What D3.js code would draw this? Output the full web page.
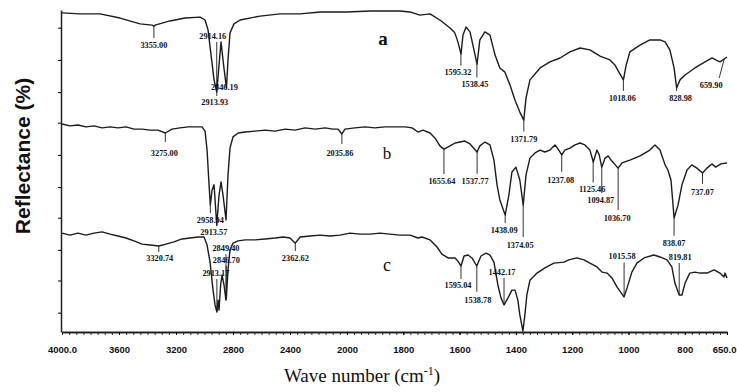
<!DOCTYPE html>
<html>
<head>
<meta charset="utf-8">
<script src="https://cdn.jsdelivr.net/npm/d3@7"></script>
<style>
  body { margin: 0; background: #fff; }
  svg { display: block; }
  .curve { fill: none; stroke: #1c1c1c; stroke-width: 1.4; stroke-linejoin: round; }
  .peak-line { stroke: #1c1c1c; stroke-width: 0.9; }
  .peak-label { font-family: "Liberation Serif", serif; font-size: 8.3px; font-weight: bold; fill: #111; text-anchor: middle; }
  .tag { font-family: "Liberation Serif", serif; fill: #111; text-anchor: middle; }
</style>
</head>
<body>
<div id="vis"></div>
<script>
const FRAME_HEIGHT = 392;
const FRAME_WIDTH = 737;
const MARGINS = {left: 62, right: 10, top: 10, bottom: 60};
const X_BREAK = MARGINS.left + 285; // pixel where 2000 cm-1 sits (axis changes scale there)

// x axis ticks
const X_TICKS = [4000, 3600, 3200, 2800, 2400, 2000, 1800, 1600, 1400, 1200, 1000, 800, 650];
const X_TICK_LABELS = ['4000.0', '3600', '3200', '2800', '2400', '2000', '1800', '1600', '1400', '1200', '1000', '800', '650.0'];
const Y_TICKS = [6, 16, 25.5, 35.5, 45, 55, 65, 74.5, 84.5, 94.5];

// spectra: [wave number, reflectance]
const SPECTRUM_A = [[4000,99.1],[3874,98.8],[3733,98.8],[3593,97.5],[3452,95.7],[3368,95.3],[3355,95.0],[3347,95.3],[3242,96.6],[3137,97.5],[3031,97.8],[2996,96.9],[2975,93.8],[2954,86.0],[2933,78.3],[2914,74.5],[2901,81.4],[2884,90.1],[2866,82.9],[2846,75.8],[2835,84.5],[2821,92.9],[2793,95.7],[2750,96.9],[2610,98.1],[2470,98.8],[2329,98.8],[2189,99.4],[2000,99.4],[1918,99.7],[1812,99.7],[1776,99.4],[1741,98.4],[1705,98.8],[1670,96.9],[1634,94.4],[1617,92.9],[1606,90.1],[1595,86.3],[1588,92.2],[1577,94.7],[1563,93.2],[1549,87.6],[1538,83.2],[1528,90.7],[1510,93.2],[1492,92.2],[1474,86.0],[1457,82.0],[1439,80.7],[1421,76.7],[1403,72.0],[1386,68.3],[1372,65.8],[1364,72.7],[1350,78.3],[1314,82.0],[1279,83.9],[1243,85.1],[1208,87.0],[1172,88.2],[1137,87.6],[1101,85.7],[1066,84.5],[1048,82.9],[1030,80.1],[1018,78.3],[1009,82.6],[995,87.0],[959,89.1],[924,90.7],[888,90.7],[870,90.1],[853,87.6],[838,82.0],[829,75.8],[817,78.3],[799,79.8],[764,82.0],[728,83.9],[703,85.1],[690,84.5],[675,83.9],[650,85.4]];

const SPECTRUM_B = [[4000,64.6],[3944,64.0],[3888,64.3],[3832,63.7],[3775,64.0],[3719,63.4],[3663,63.7],[3607,63.4],[3551,63.7],[3495,63.0],[3438,63.0],[3382,62.7],[3326,62.7],[3275,61.8],[3228,63.0],[3172,63.4],[3115,63.7],[3059,63.7],[3017,63.7],[2996,62.4],[2982,56.5],[2968,45.7],[2959,39.4],[2947,44.1],[2933,45.7],[2914,33.2],[2898,42.5],[2884,46.6],[2870,42.5],[2849,34.8],[2835,48.8],[2821,57.1],[2800,60.6],[2764,61.8],[2715,62.1],[2645,62.4],[2575,62.7],[2505,62.4],[2435,63.0],[2364,62.7],[2294,63.4],[2224,63.0],[2154,63.4],[2098,63.0],[2063,63.0],[2036,61.5],[2014,63.0],[1972,63.4],[1936,63.7],[1901,63.4],[1865,63.7],[1830,63.7],[1794,63.7],[1769,63.4],[1748,62.1],[1730,62.7],[1705,61.8],[1687,60.2],[1670,57.8],[1656,56.8],[1634,57.8],[1616,58.7],[1599,59.0],[1581,59.3],[1563,58.4],[1538,55.9],[1528,57.8],[1510,59.0],[1492,58.1],[1478,53.4],[1467,45.7],[1457,41.0],[1438,36.3],[1425,42.5],[1414,49.7],[1400,51.2],[1386,47.2],[1374,39.4],[1364,48.8],[1350,54.0],[1332,55.6],[1314,56.5],[1297,55.9],[1279,56.5],[1261,58.1],[1250,56.8],[1237,55.0],[1226,56.5],[1208,57.1],[1190,58.1],[1172,58.7],[1155,58.1],[1137,56.5],[1125,52.8],[1112,56.5],[1104,55.0],[1095,51.2],[1083,54.0],[1072,54.7],[1062,53.4],[1037,50.9],[1023,52.5],[995,53.4],[959,54.7],[924,56.5],[906,58.1],[888,56.5],[870,51.9],[860,50.3],[849,47.2],[838,35.4],[824,39.4],[810,45.7],[792,50.3],[775,51.9],[757,50.9],[737,49.4],[721,50.9],[704,52.2],[690,51.2],[672,52.2],[650,52.5]];

const SPECTRUM_C = [[4000,30.7],[3944,30.1],[3888,30.7],[3832,30.1],[3775,30.7],[3719,31.1],[3663,30.4],[3607,29.8],[3551,29.2],[3495,28.3],[3438,27.3],[3382,27.0],[3321,26.7],[3270,27.3],[3214,28.0],[3158,28.9],[3101,29.2],[3045,29.5],[3003,29.5],[2982,27.0],[2961,21.7],[2940,13.0],[2926,8.4],[2913,6.2],[2905,9.9],[2898,6.8],[2887,14.6],[2877,17.7],[2863,14.6],[2849.4,9.9],[2848,12.4],[2846.7,10.6],[2835,19.3],[2821,25.5],[2800,27.6],[2764,28.3],[2715,28.6],[2645,28.6],[2575,28.9],[2505,29.2],[2449,29.5],[2400,29.2],[2363,27.6],[2329,29.5],[2259,29.8],[2189,30.1],[2119,29.8],[2049,30.1],[1989,30.7],[1954,30.4],[1918,30.4],[1883,30.7],[1847,30.4],[1812,30.1],[1776,30.1],[1748,29.2],[1734,29.5],[1705,28.6],[1680,26.4],[1663,24.2],[1641,23.0],[1616,23.0],[1606,22.0],[1595,20.5],[1584,23.6],[1570,23.9],[1556,23.0],[1539,20.5],[1524,23.6],[1506,24.5],[1492,23.9],[1478,21.7],[1464,14.6],[1453,10.6],[1442,8.4],[1428,10.6],[1414,13.0],[1403,13.0],[1393,9.9],[1386,5.3],[1375,0.3],[1368,5.3],[1361,11.5],[1350,16.1],[1325,18.3],[1297,19.9],[1265,21.4],[1229,21.7],[1212,22.4],[1183,23.0],[1158,22.4],[1137,21.4],[1112,20.2],[1094,18.6],[1076,18.3],[1059,16.8],[1041,14.0],[1016,10.9],[1005,13.7],[988,18.6],[970,21.4],[945,23.0],[910,23.9],[888,23.3],[863,22.4],[846,20.2],[835,15.2],[820,11.5],[810,11.5],[799,15.2],[782,18.3],[764,18.6],[746,18.3],[721,18.3],[696,19.3],[675,18.3],[661,17.1],[657,18.3],[650,16.8]];

// peak annotations: [wave number, label]
const PEAKS_A = [[3355.00,'3355.00'],[2914.16,'2914.16'],[2846.19,'2846.19'],[2913.93,'2913.93'],[1595.32,'1595.32'],[1538.45,'1538.45'],[1371.79,'1371.79'],[1018.06,'1018.06'],[828.98,'828.98'],[659.90,'659.90']];
const PEAKS_B = [[3275.00,'3275.00'],[2958.94,'2958.94'],[2913.57,'2913.57'],[2035.86,'2035.86'],[1655.64,'1655.64'],[1537.77,'1537.77'],[1438.09,'1438.09'],[1374.05,'1374.05'],[1237.08,'1237.08'],[1125.46,'1125.46'],[1094.87,'1094.87'],[1036.70,'1036.70'],[838.07,'838.07'],[737.07,'737.07']];
const PEAKS_C = [[3320.74,'3320.74'],[2913.17,'2913.17'],[2849.40,'2849.40'],[2846.70,'2846.70'],[2362.62,'2362.62'],[1595.04,'1595.04'],[1538.78,'1538.78'],[1442.17,'1442.17'],[1015.58,'1015.58'],[819.81,'819.81']];

// label placement (px offsets from the peak): [leader end dy, text dy, text dx, leader end dx]
const LAYOUT_A = [[12,19,0],[-50,-56,-4],[0,-1,-2],[4,10,-2],[12,18,-3],[14,21,-2],[12,20,0],[11,18,-1],[3,10,4],[19,26,-13,-5]];
const LAYOUT_B = [[9,20,-1],[8,15,0],[2,8,-3],[10,19,-2],[25,32,-2],[22,29,-2],[8,15,-1],[32,40,-3],[17,25,-1],[21,28,-1],[26,33,-1],[42,50,-1],[18,25,0],[11,19,0]];
const LAYOUT_C = [[6,12,1],[-33,-39,-1],[-46,-52,0],[-32,-38,0],[8,15,0],[13,19,-3],[26,34,1],[-27,-33,-2],[-34,-40,-2],[-32,-38,1]];

const FRAME = d3.select("#vis")
                .append("svg")
                  .attr("width", FRAME_WIDTH)
                  .attr("height", FRAME_HEIGHT);

// split axis: 4000-2000 compressed, 2000-650 expanded
const X_SCALE = d3.scaleLinear()
        .domain([4000, 2000, 650])
        .range([MARGINS.left, X_BREAK, FRAME_WIDTH - MARGINS.right]);

const Y_SCALE = d3.scaleLinear()
        .domain([0, 100])
        .range([FRAME_HEIGHT - MARGINS.bottom, MARGINS.top]);

// minor ticks along the bottom
const MINOR = d3.range(4000, 2000, -50).concat(d3.range(2000, 649, -25));
FRAME.append("g")
    .attr("transform", "translate(0," + Y_SCALE(0) + ")")
    .call(d3.axisBottom(X_SCALE).tickValues(MINOR).tickFormat("").tickSize(3).tickSizeOuter(0))
    .call(g => g.select(".domain").remove())
    .call(g => g.selectAll("line").attr("stroke", "#333"));

// x axis
FRAME.append("g")
    .attr("transform", "translate(0," + Y_SCALE(0) + ")")
    .call(d3.axisBottom(X_SCALE).tickValues(X_TICKS)
            .tickFormat((d, i) => X_TICK_LABELS[i])
            .tickSize(3).tickSizeOuter(0).tickPadding(11))
    .call(g => g.select(".domain").attr("stroke-width", 2).attr("stroke", "#222"))
    .call(g => g.selectAll("text")
            .attr("font-family", "'Liberation Sans', Arial, sans-serif")
            .attr("font-weight", "bold")
            .attr("font-size", "9.5px")
            .attr("fill", "#111"))
    // last label sits at the right edge of the frame
    .call(g => g.selectAll(".tick").filter(d => d === 650).select("text")
            .attr("text-anchor", "end").attr("x", FRAME_WIDTH - 1 - X_SCALE(650)));

// y axis (no labels)
FRAME.append("g")
    .attr("transform", "translate(" + (MARGINS.left - 1) + ",0)")
    .call(d3.axisLeft(Y_SCALE).tickValues(Y_TICKS).tickFormat("").tickSize(3).tickSizeOuter(0))
    .call(g => g.select(".domain").attr("stroke-width", 1.5).attr("stroke", "#222"));

const line = d3.line()
        .x(d => X_SCALE(d[0]))
        .y(d => Y_SCALE(d[1]));

// reflectance at a wave number, by linear interpolation along the spectrum
function valueAt(spec, wn) {
    for (let i = 0; i < spec.length - 1; i++) {
        const a = spec[i], b = spec[i + 1];
        if (wn <= a[0] && wn >= b[0]) {
            const t = (a[0] - wn) / (a[0] - b[0]);
            return a[1] + t * (b[1] - a[1]);
        }
    }
    return spec[spec.length - 1][1];
}

const SETS = [
    {spec: SPECTRUM_A, peaks: PEAKS_A, layout: LAYOUT_A},
    {spec: SPECTRUM_B, peaks: PEAKS_B, layout: LAYOUT_B},
    {spec: SPECTRUM_C, peaks: PEAKS_C, layout: LAYOUT_C}
];

SETS.forEach(s => {
    FRAME.append("path")
        .datum(s.spec)
        .attr("class", "curve")
        .attr("d", line);

    s.peaks.forEach((p, i) => {
        const L = s.layout[i];
        const x0 = X_SCALE(p[0]);
        const y0 = Y_SCALE(valueAt(s.spec, p[0]));
        if (L[0] !== 0) {
            FRAME.append("line")
                .attr("class", "peak-line")
                .attr("x1", x0).attr("y1", y0)
                .attr("x2", x0 + (L[3] || 0)).attr("y2", y0 + L[0]);
        }
        FRAME.append("text")
            .attr("class", "peak-label")
            .attr("x", x0 + L[2])
            .attr("y", y0 + L[1])
            .attr("dy", "0.35em")
            .text(p[1]);
    });
});

// series tags
const TAGS = ['a', 'b', 'c'];
const TAG_POS = [[1872, 91.3], [1858, 55.6], [1858, 20.8]];
const TAG_STYLE = [[19, 'bold'], [17, 'normal'], [18, 'normal']];
TAGS.forEach((t, i) => {
    FRAME.append("text")
        .attr("class", "tag")
        .attr("x", X_SCALE(TAG_POS[i][0]))
        .attr("y", Y_SCALE(TAG_POS[i][1]))
        .attr("dy", "0.35em")
        .attr("font-size", TAG_STYLE[i][0] + "px")
        .attr("font-weight", TAG_STYLE[i][1])
        .text(t);
});

// axis titles
FRAME.append("text")
    .attr("transform", "translate(30,156) rotate(-90)")
    .attr("text-anchor", "middle")
    .attr("font-family", "'Liberation Sans', Arial, sans-serif")
    .attr("font-weight", "bold")
    .attr("font-size", "21px")
    .attr("fill", "#111")
    .text("Reflectance (%)");

const XT = FRAME.append("text")
    .attr("x", 362)
    .attr("y", 382)
    .attr("text-anchor", "middle")
    .attr("font-family", "'Liberation Serif', 'Times New Roman', serif")
    .attr("font-size", "19px")
    .attr("fill", "#111");
XT.append("tspan").text("Wave number (cm");
XT.append("tspan").attr("dy", "-7").attr("font-size", "12px").text("-1");
XT.append("tspan").attr("dy", "7").text(")");
</script>
</body>
</html>
